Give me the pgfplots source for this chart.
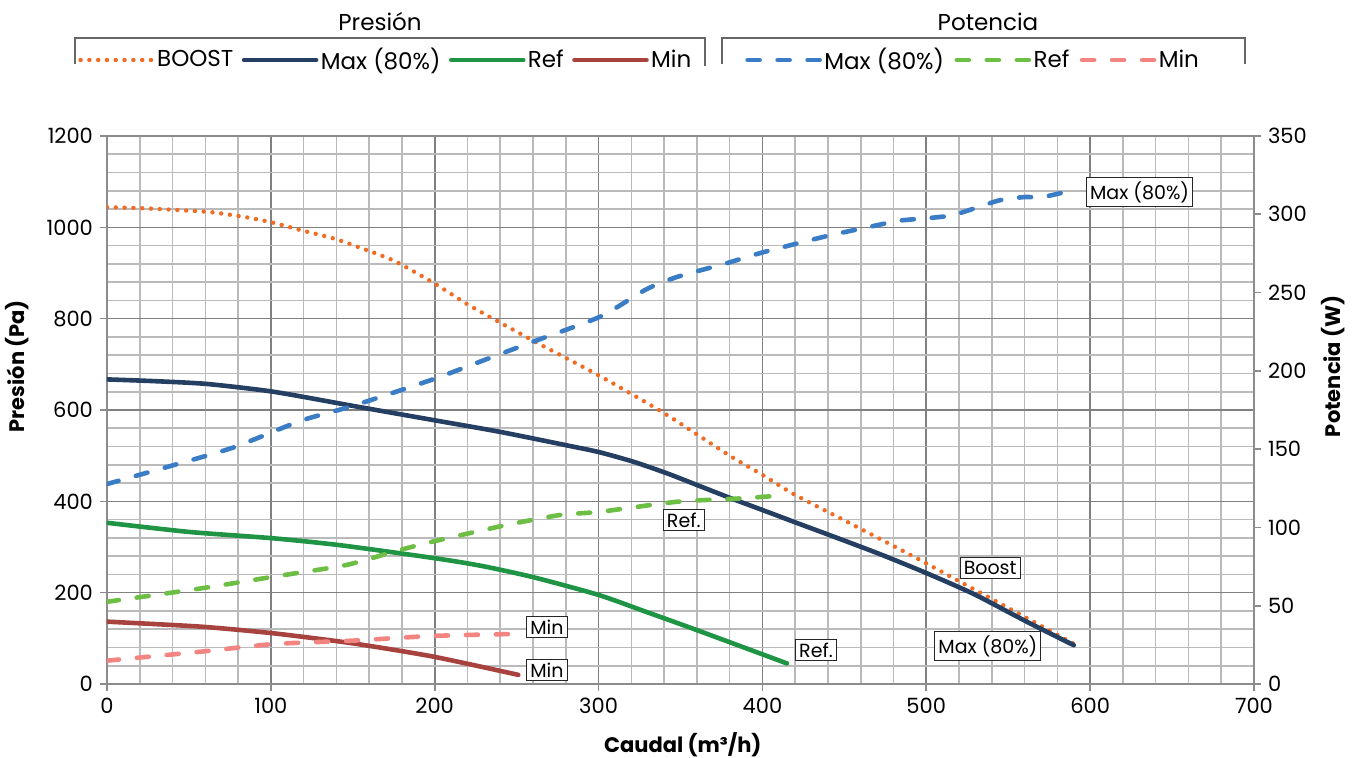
\documentclass[border=0pt]{standalone}
\usepackage{fontspec}
\setmainfont{Poppins}
\usepackage{pgfplots}
\pgfplotsset{compat=1.18}

\definecolor{cBoost}{HTML}{F26B22}
\definecolor{cMaxP}{HTML}{243F62}
\definecolor{cRefP}{HTML}{1E9444}
\definecolor{cMinP}{HTML}{A8423E}
\definecolor{cMaxW}{HTML}{3A7DC6}
\definecolor{cRefW}{HTML}{6DBE45}
\definecolor{cMinW}{HTML}{F28482}

\newcommand{\tickfont}{\fontsize{10.5}{12}\selectfont}
\newcommand{\lblfont}{\fontsize{9.5}{11}\selectfont}
\newcommand{\legfont}{\fontsize{11.5}{13}\selectfont}

\tikzset{
  lbl/.style={draw=black!85, line width=0.5pt, fill=white, inner sep=1.8pt, font=\lblfont},
  boostline/.style={cBoost, line width=2.2pt, line cap=round, dash pattern=on 0pt off 4.4pt},
  solidline/.style={line width=2.3pt, line cap=round},
  dashline/.style={line width=2.3pt, line cap=round, dash pattern=on 6pt off 9pt},
}

\pgfplotsset{
  common/.style={
    at={(0,0)}, anchor=south west,
    scale only axis, width=573.5pt, height=274pt,
    xmin=0, xmax=700,
    /pgf/number format/assume math mode=true,
    /pgf/number format/1000 sep={},
    ticklabel style={font=\tickfont},
    axis line style={draw=black!45, line width=0.8pt},
    tick style={draw=black!45, line width=0.8pt},
    major tick length=3.5pt, minor tick length=0pt,
    tick align=outside,
    label style={font=\tickfont\bfseries},
    legend image code/.code={\draw[##1] (0pt,0pt) -- (36pt,0pt);},
    legend cell align=left,
  },
}

\begin{document}
\begin{tikzpicture}
\useasboundingbox (-53.5pt,-37pt) rectangle (627.5pt,342pt);
\begin{axis}[common,
  ymin=0, ymax=1200,
  xtick={0,100,...,700}, ytick={0,200,...,1200},
  minor x tick num=4, minor y tick num=4,
  xtick pos=bottom, ytick pos=left,
  grid=both,
  major grid style={draw=black!50, line width=0.8pt},
  minor grid style={draw=black!27, line width=0.8pt},
  xlabel={Caudal (m³/h)},
  ylabel={Presión (Pa)},
  xlabel style={at={(axis description cs:0.502,-0.111)}, anchor=center},
  ylabel style={at={(axis description cs:-0.0785,0.58)}, anchor=center},
  legend style={at={(axis description cs:-0.0253,1.1387)}, anchor=west,
    draw=none, fill=none, font=\legfont, inner sep=0pt,
    nodes={inner sep=1.2pt},
    /tikz/every even column/.append style={column sep=3pt}},
  legend columns=4,
]
\addplot[boostline, smooth, tension=0.4] coordinates {
(0,1044) (20,1042) (42.5,1038) (64,1033) (85,1022) (101.5,1010) (118,994) (138,976) (154,956) (175,927) (199,879) (217,838) (227,817) (261,750) (301,674) (340,593) (380,500) (400,458) (419,416) (448,362) (478,306) (498,268) (517.5,230) (537,192) (561,145) (590,88)};
\addlegendentry{BOOST}
\addplot[solidline, cMaxP, smooth, tension=0.4] coordinates {
(0,667) (30,663) (61,657) (101.5,640) (150,609) (199,578) (240,552) (280,523) (300,508) (321,487) (342,461) (362,433) (382,405) (400,381) (423,350) (447,318) (472,284) (500,243) (529,197) (561,137) (590,85)};
\addlegendentry{Max (80\%)}
\addplot[solidline, cRefP, smooth, tension=0.4] coordinates {
(0,353) (50,333) (101.5,319) (142,304) (199,276) (228,259) (260,234) (300,195) (329,158) (360,118) (415,45)};
\addlegendentry{Ref}
\addplot[solidline, cMinP, smooth, tension=0.4] coordinates {
(0,136.5) (57,125.6) (101.5,111) (150,89) (199,60) (251,20)};
\addlegendentry{Min}

\node[lbl, anchor=west] at (axis cs:597.5,1077) {Max (80\%)};
\node[lbl] at (axis cs:352,359) {Ref.};
\node[lbl] at (axis cs:268.5,125) {Min};
\node[lbl] at (axis cs:268.5,30.7) {Min};
\node[lbl] at (axis cs:432.7,74.5) {Ref.};
\node[lbl] at (axis cs:539,254) {Boost};
\node[lbl] at (axis cs:537.6,83) {Max (80\%)};
\end{axis}

\begin{axis}[common,
  ymin=0, ymax=350, ytick={0,50,...,350},
  axis x line=none, axis y line*=right, ytick pos=right,
  ylabel={Potencia (W)},
  ylabel style={at={(axis description cs:1.0689,0.58)}, anchor=center, rotate=0},
  legend style={at={(axis description cs:0.5562,1.1387)}, anchor=west,
    draw=none, fill=none, font=\legfont, inner sep=0pt,
    nodes={inner sep=1.2pt},
    /tikz/every even column/.append style={column sep=4pt}},
  legend columns=3,
]
\addplot[dashline, cMaxW, smooth, tension=0.4] coordinates {
(0,127.7) (36,138.4) (77,151) (118,168) (150,177.6) (199,194.6) (228,206) (260,218.6) (301,234.6) (329,252) (348,260) (378,268.7) (400,275.6) (439,286) (470,293) (484,296) (514,299) (533,305) (545,309) (560,311) (571,311) (590,315.5)};
\addlegendentry{Max (80\%)}
\addplot[dashline, cRefW, smooth, tension=0.4] coordinates {
(0,52.5) (57,61) (101.5,68.5) (146,76) (175,84.5) (199,91) (244,101.6) (277,108) (301,110) (348,116.4) (388,118.6) (415,120.7)};
\addlegendentry{Ref}
\addplot[dashline, cMinW, smooth, tension=0.4] coordinates {
(0,14.9) (57,20.6) (101.5,25.5) (150,27.7) (199,30.7) (251,32)};
\addlegendentry{Min}
\end{axis}

\draw[black!60, line width=0.6pt] (-16pt,310pt) -- (-16pt,323pt) -- (299pt,323pt) -- (299pt,309pt);
\draw[black!60, line width=0.6pt] (307.5pt,310pt) -- (307.5pt,323pt) -- (569pt,323pt) -- (569pt,310pt);
\node[font=\legfont] at (136.5pt,331pt) {Presión};
\node[font=\legfont] at (440.5pt,331pt) {Potencia};
\end{tikzpicture}
\end{document}
